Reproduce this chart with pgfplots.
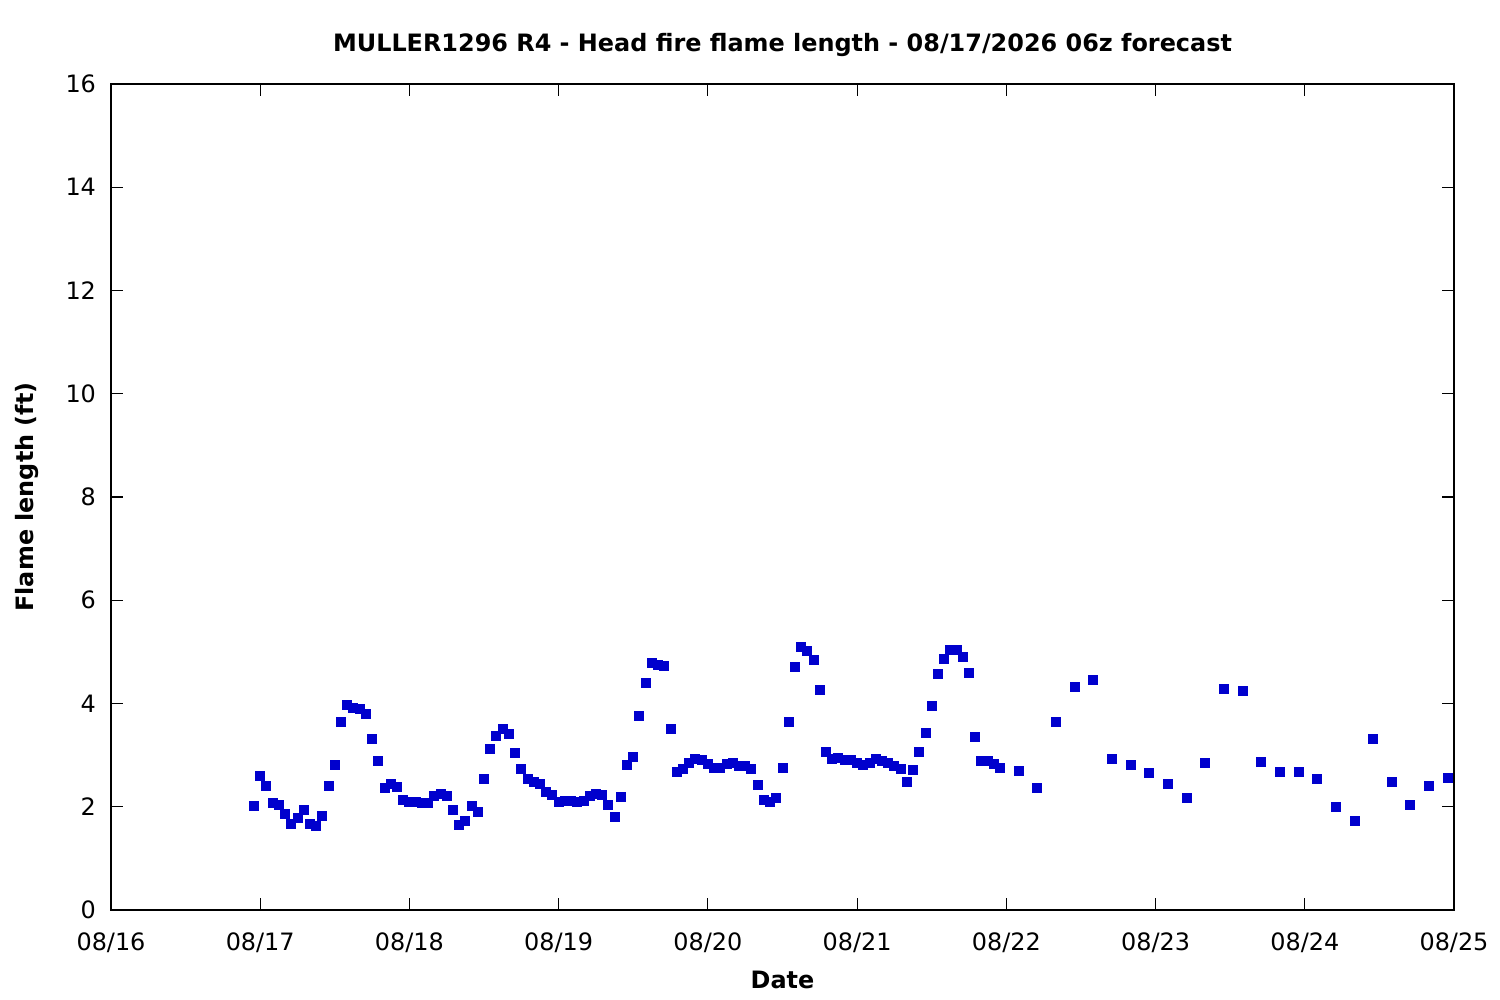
\documentclass[border=0pt]{standalone}
\usepackage{pgfplots}
\pgfplotsset{compat=1.18}
\usepackage{pgfplotstable}
\usepackage{fontspec}
\setmainfont{DejaVu Sans}
\definecolor{ptblue}{RGB}{0,0,205}
\pgfplotstableread{
h v
-1 2.01
0 2.59
1 2.41
2 2.08
3 2.03
4 1.85
5 1.66
6 1.78
7 1.93
8 1.66
9 1.62
10 1.83
11 2.40
12 2.80
13 3.64
14 3.97
15 3.91
16 3.89
17 3.79
18 3.31
19 2.88
20 2.36
21 2.45
22 2.38
23 2.14
24 2.10
25 2.10
26 2.07
27 2.07
28 2.20
29 2.24
30 2.20
31 1.93
32 1.64
33 1.72
34 2.01
35 1.89
36 2.53
37 3.11
38 3.38
39 3.50
40 3.40
41 3.05
42 2.74
43 2.53
44 2.47
45 2.45
46 2.28
47 2.22
48 2.09
49 2.11
50 2.11
51 2.09
52 2.12
53 2.20
54 2.24
55 2.22
56 2.03
57 1.80
58 2.18
59 2.80
60 2.96
61 3.75
62 4.39
63 4.78
64 4.74
65 4.72
66 3.50
67 2.67
68 2.74
69 2.84
70 2.92
71 2.90
72 2.82
73 2.76
74 2.76
75 2.82
76 2.84
77 2.78
78 2.78
79 2.74
80 2.42
81 2.14
82 2.09
83 2.16
84 2.76
85 3.65
86 4.70
87 5.09
88 5.01
89 4.84
90 4.26
91 3.07
92 2.92
93 2.94
94 2.90
95 2.90
96 2.84
97 2.80
98 2.84
99 2.92
100 2.88
101 2.84
102 2.78
103 2.74
104 2.47
105 2.71
106 3.07
107 3.42
108 3.95
109 4.57
110 4.86
111 5.03
112 5.03
113 4.90
114 4.59
115 3.35
116 2.88
117 2.88
118 2.82
119 2.76
122 2.69
125 2.36
128 3.64
131 4.31
134 4.45
137 2.92
140 2.80
143 2.65
146 2.45
149 2.16
152 2.84
155 4.28
158 4.24
161 2.86
164 2.67
167 2.67
170 2.53
173 1.99
176 1.72
179 3.31
182 2.47
185 2.03
188 2.41
191 2.55
}\flamedata
\begin{document}
\begin{tikzpicture}
\useasboundingbox (-55.5bp,-45bp) rectangle (694.5bp,455bp);
\begin{axis}[
  at={(0,0)}, anchor=south west,
  scale only axis,
  width=671.5bp, height=413bp,
  xmin=-24, xmax=192,
  ymin=0, ymax=16,
  xtick={-24,0,24,48,72,96,120,144,168,192},
  xticklabels={08/16,08/17,08/18,08/19,08/20,08/21,08/22,08/23,08/24,08/25},
  ytick={0,2,4,6,8,10,12,14,16},
  tick align=inside,
  major tick length=6bp,
  tick style={black, line width=0.6pt},
  axis line style={black, line width=0.7pt},
  /pgf/number format/assume math mode=true,
  tick label style={font=\fontsize{12}{14}\selectfont},
  xticklabel style={yshift=-8bp},
  yticklabel style={xshift=-4bp},
  title={\textbf{MULLER1296 R4 - Head fire flame length - 08/17/2026 06z forecast}},
  title style={font=\fontsize{12}{14}\selectfont, at={(axis description cs:0.5,1)}, yshift=13.5bp, anchor=center},
  xlabel={\textbf{Date}},
  xlabel style={font=\fontsize{12}{14}\selectfont, at={(axis description cs:0.5,0)}, yshift=-35bp, anchor=center},
  ylabel={\textbf{Flame length (ft)}},
  ylabel style={font=\fontsize{12}{14}\selectfont, at={(axis description cs:0,0.5)}, yshift=42bp, anchor=center},
  clip=false,
]
\addplot[only marks, mark=square*, mark size=2.25bp, mark options={draw=ptblue, fill=ptblue, line width=0pt}] table[x=h, y=v] {\flamedata};
\end{axis}
\end{tikzpicture}
\end{document}
